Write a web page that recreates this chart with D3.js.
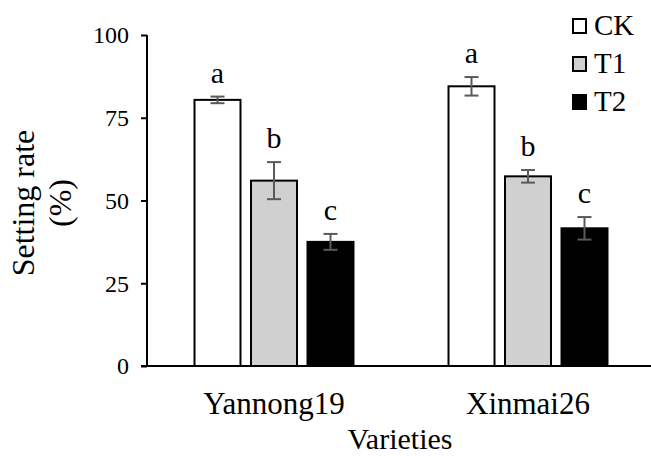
<!DOCTYPE html>
<html>
<head>
<meta charset="utf-8">
<script src="https://cdn.jsdelivr.net/npm/d3@7"></script>
<style>
  body { margin: 0; background: #fff; }
  text { font-family: "Liberation Serif", "Times New Roman", serif; fill: #000; }
</style>
</head>
<body>
<svg id="chart" width="651" height="456"></svg>
<script>
        // Data
        const varieties = ["Yannong19", "Xinmai26"];
        const treatments = ["CK", "T1", "T2"];
        const means = {
            Yannong19: [80.4, 56.0, 37.5],
            Xinmai26: [84.5, 57.3, 41.6]
        };
        const errors = {
            Yannong19: [1.0, 5.6, 2.4],
            Xinmai26: [2.8, 1.9, 3.4]
        };
        const letters = {
            Yannong19: ["a", "b", "c"],
            Xinmai26: ["a", "b", "c"]
        };
        const yTicks = [0, 25, 50, 75, 100];

        const svg = d3.select("#chart");

        // Scales
        const x0 = d3.scaleBand()
            .domain(varieties)
            .range([147, 655]);

        const x1 = d3.scaleBand()
            .domain(treatments)
            .range([-84.75, 84.75])
            .paddingInner(0.186)
            .paddingOuter(0.093);

        const y = d3.scaleLinear()
            .domain([0, 100])
            .range([366, 35]);

        const color = d3.scaleOrdinal()
            .domain(treatments)
            .range(["#ffffff", "#d0d0d0", "#000000"]);

        // Flatten for drawing
        const rows = [];
        varieties.forEach(v => treatments.forEach((t, i) => rows.push({
            variety: v, treatment: t,
            value: means[v][i], err: errors[v][i], letter: letters[v][i]
        })));
        const cx = d => x0(d.variety) + x0.bandwidth() / 2 + x1(d.treatment);

        // Bars
        svg.append("g").selectAll("rect")
            .data(rows)
            .join("rect")
            .attr("x", d => cx(d))
            .attr("y", d => y(d.value))
            .attr("width", x1.bandwidth())
            .attr("height", d => y(0) - y(d.value))
            .attr("fill", d => color(d.treatment))
            .attr("stroke", "#000")
            .attr("stroke-width", 2);

        // Error bars
        const eb = svg.append("g")
            .attr("stroke", "#5a5a5a")
            .attr("stroke-width", 2);
        rows.forEach(d => {
            const m = cx(d) + x1.bandwidth() / 2;
            const top = y(d.value + d.err), bot = y(d.value - d.err);
            eb.append("line").attr("x1", m).attr("x2", m).attr("y1", top).attr("y2", bot);
            eb.append("line").attr("x1", m - 7).attr("x2", m + 7).attr("y1", top).attr("y2", top);
            eb.append("line").attr("x1", m - 7).attr("x2", m + 7).attr("y1", bot).attr("y2", bot);
        });

        // Significance letters
        svg.append("g").selectAll("text")
            .data(rows)
            .join("text")
            .attr("x", d => cx(d) + x1.bandwidth() / 2)
            .attr("y", d => y(d.value + d.err) - 14)
            .attr("text-anchor", "middle")
            .attr("font-size", 30)
            .text(d => d.letter);

        // Y axis
        const yAxis = svg.append("g")
            .attr("transform", "translate(147,0)")
            .call(d3.axisLeft(y).tickValues(yTicks).tickSize(6).tickPadding(0).tickFormat(""));
        yAxis.select(".domain").attr("stroke-width", 2).attr("d", `M0,${y(0)}V${y(100)}`);
        yAxis.selectAll(".tick line").attr("stroke-width", 2);

        svg.append("g").selectAll("text")
            .data(yTicks)
            .join("text")
            .attr("x", 129)
            .attr("y", d => y(d))
            .attr("text-anchor", "end")
            .attr("dy", "0.35em")
            .attr("font-size", 24)
            .text(d => d);

        // X axis line
        svg.append("line")
            .attr("x1", 141).attr("x2", 651)
            .attr("y1", y(0)).attr("y2", y(0))
            .attr("stroke", "#000").attr("stroke-width", 2);

        svg.append("g").selectAll("text")
            .data(varieties)
            .join("text")
            .attr("x", d => x0(d) + x0.bandwidth() / 2)
            .attr("y", 414)
            .attr("text-anchor", "middle")
            .attr("font-size", 31)
            .text(d => d);

        // Axis titles
        svg.append("text")
            .attr("x", 400)
            .attr("y", 449)
            .attr("text-anchor", "middle")
            .attr("font-size", 30)
            .text("Varieties");

        const yTitle = svg.append("text")
            .attr("transform", "translate(34,203) rotate(-90)")
            .attr("text-anchor", "middle")
            .attr("font-size", 32);
        yTitle.append("tspan").attr("x", 0).attr("dy", 0).text("Setting rate");
        yTitle.append("tspan").attr("x", 0).attr("dy", "1.15em").text("(%)");

        // Legend
        const legend = svg.append("g").selectAll("g")
            .data(treatments)
            .join("g")
            .attr("transform", (d, i) => `translate(572,${26 + i * 38})`);
        legend.append("rect")
            .attr("x", 1).attr("y", -7)
            .attr("width", 13).attr("height", 14)
            .attr("fill", d => color(d))
            .attr("stroke", "#000").attr("stroke-width", 2);
        legend.append("text")
            .attr("x", 22)
            .attr("y", 9)
            .attr("font-size", 29)
            .text(d => d);
</script>
</body>
</html>
